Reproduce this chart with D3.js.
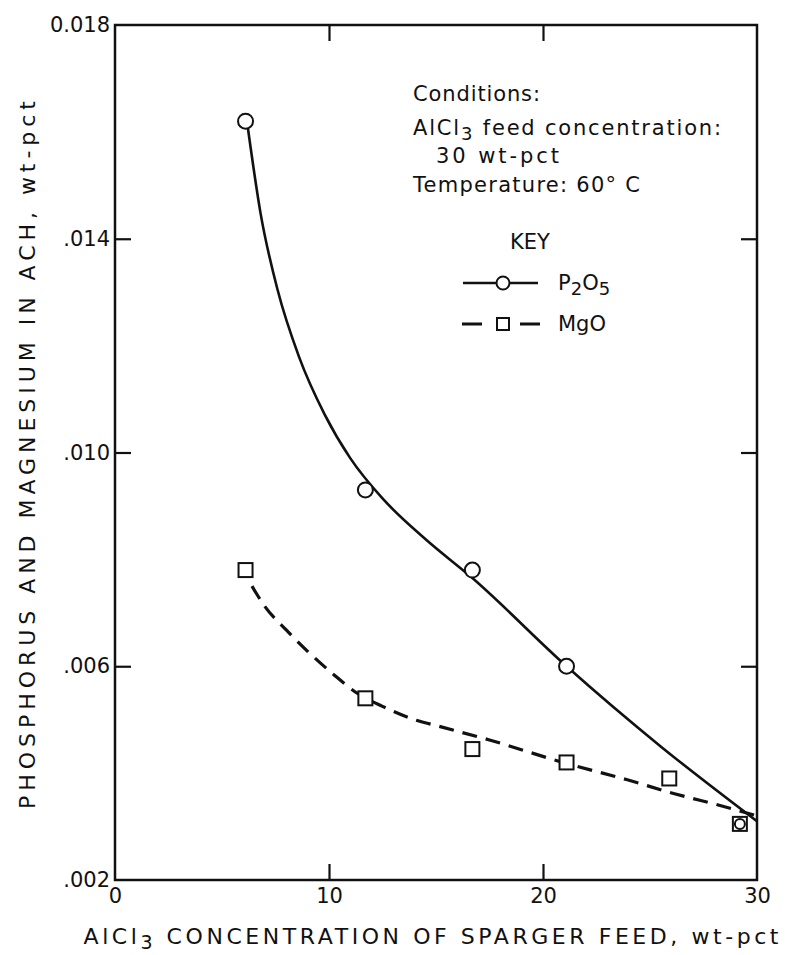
<!DOCTYPE html>
<html>
<head>
<meta charset="utf-8">
<script src="https://cdn.jsdelivr.net/npm/d3@7"></script>
<style>
  body { margin: 0; background: #fff; }
  svg { display: block; }
  text { font-family: "DejaVu Sans", sans-serif; fill: #111; }
</style>
</head>
<body>
<div id="chart"></div>
<script>
// measured points
const p2o5X = [6.1, 11.7, 16.7, 21.1, 29.2];
const p2o5Y = [0.0162, 0.0093, 0.0078, 0.0060, 0.00305];
const mgoX = [6.1, 11.7, 16.7, 21.1, 25.9, 29.2];
const mgoY = [0.0078, 0.0054, 0.00445, 0.0042, 0.0039, 0.00305];

// hand-drawn fit curves
const p2o5CurveX = [6.2, 6.8, 7.6, 8.6, 9.8, 11.0, 12.5, 14.5, 16.7, 21.1, 25.5, 30];
const p2o5CurveY = [0.0161, 0.01448, 0.01304, 0.01179, 0.01071, 0.00989, 0.00914, 0.00838, 0.00765, 0.0060, 0.0045, 0.0031];
const mgoCurveX = [6.4, 7.0, 8.0, 9.0, 10.2, 11.3, 12.5, 14.0, 15.2, 17.5, 21.1, 23.9, 26.1, 28.4, 30];
const mgoCurveY = [0.0075, 0.00712, 0.00668, 0.00628, 0.00585, 0.0055, 0.00525, 0.0050, 0.00487, 0.00462, 0.00418, 0.00388, 0.00362, 0.00338, 0.0032];

const xTicks = [0, 10, 20, 30];
const xTickLabels = ["0", "10", "20", "30"];
const yTicks = [0.018, 0.014, 0.010, 0.006, 0.002];
const yTickLabels = ["0.018", ".014", ".010", ".006", ".002"];

const margin = { top: 25, right: 32, bottom: 75, left: 115 },
      width = 789 - margin.left - margin.right,
      height = 955 - margin.top - margin.bottom;

const svg = d3.select("#chart")
  .append("svg")
  .attr("width", 789)
  .attr("height", 955)
  .append("g")
  .attr("transform", `translate(${margin.left},${margin.top})`);

const x = d3.scaleLinear().domain([0, 30]).range([0, width]);
const y = d3.scaleLinear().domain([0.002, 0.018]).range([height, 0]);

// frame
svg.append("rect")
  .attr("width", width).attr("height", height)
  .attr("fill", "none").attr("stroke", "#111").attr("stroke-width", 2.5);

const tickLen = 16;
const fmtX = d => xTickLabels[xTicks.indexOf(d)];
const fmtY = d => yTickLabels[yTicks.indexOf(d)];

const styleAxis = g => {
  g.select(".domain").remove();
  g.selectAll(".tick line").attr("stroke", "#111").attr("stroke-width", 2.2);
  g.selectAll(".tick text").attr("font-size", 21).attr("fill", "#111");
};

svg.append("g")
  .attr("transform", `translate(0,${height})`)
  .call(d3.axisBottom(x).tickValues(xTicks).tickFormat(fmtX).tickSizeInner(-tickLen).tickSizeOuter(0).tickPadding(8))
  .call(styleAxis)
  .call(g => g.selectAll(".tick line").filter(d => d === 0 || d === 30).remove());

svg.append("g")
  .call(d3.axisTop(x).tickValues([10, 20]).tickFormat("").tickSizeInner(-tickLen).tickSizeOuter(0))
  .call(styleAxis);

svg.append("g")
  .call(d3.axisLeft(y).tickValues(yTicks).tickFormat(fmtY).tickSizeInner(-tickLen).tickSizeOuter(0).tickPadding(5))
  .call(styleAxis)
  .call(g => g.selectAll(".tick line").filter(d => d === 0.018 || d === 0.002).remove());

svg.append("g")
  .attr("transform", `translate(${width},0)`)
  .call(d3.axisRight(y).tickValues([0.014, 0.010, 0.006]).tickFormat("").tickSizeInner(-tickLen).tickSizeOuter(0))
  .call(styleAxis);

// axis titles
const xTitle = svg.append("text")
  .attr("x", width / 2 - 5)
  .attr("y", height + 64)
  .attr("text-anchor", "middle")
  .attr("font-size", 22)
  .attr("textLength", 695)
  .attr("lengthAdjust", "spacing");
xTitle.append("tspan").text("AlCl");
xTitle.append("tspan").attr("dy", 5).attr("font-size", 19).text("3");
xTitle.append("tspan").attr("dy", -5).text(" CONCENTRATION OF SPARGER FEED, wt-pct");

svg.append("text")
  .attr("transform", "rotate(-90)")
  .attr("x", -(455 - margin.top))
  .attr("y", -80)
  .attr("text-anchor", "middle")
  .attr("font-size", 22)
  .attr("textLength", 708)
  .attr("lengthAdjust", "spacing")
  .text("PHOSPHORUS AND MAGNESIUM IN ACH, wt-pct");

// curves
const line = d3.line()
  .x(d => x(d[0]))
  .y(d => y(d[1]))
  .curve(d3.curveMonotoneX);

svg.append("path")
  .datum(d3.zip(p2o5CurveX, p2o5CurveY))
  .attr("d", line)
  .attr("fill", "none").attr("stroke", "#111").attr("stroke-width", 2.6);

svg.append("path")
  .datum(d3.zip(mgoCurveX, mgoCurveY))
  .attr("d", line)
  .attr("fill", "none").attr("stroke", "#111").attr("stroke-width", 3.2)
  .attr("stroke-dasharray", "15,9");

// markers
const sq = 14;
svg.selectAll(".mgo")
  .data(d3.zip(mgoX, mgoY))
  .enter().append("rect")
  .attr("class", "mgo")
  .attr("x", d => x(d[0]) - sq / 2)
  .attr("y", d => y(d[1]) - sq / 2)
  .attr("width", sq).attr("height", sq)
  .attr("fill", "#fff").attr("stroke", "#111").attr("stroke-width", 2);

svg.selectAll(".p2o5")
  .data(d3.zip(p2o5X, p2o5Y))
  .enter().append("circle")
  .attr("class", "p2o5")
  .attr("cx", d => x(d[0]))
  .attr("cy", d => y(d[1]))
  .attr("r", (d, i) => i === p2o5X.length - 1 ? 5 : 7.5)
  .attr("fill", "#fff").attr("stroke", "#111").attr("stroke-width", 2);

// conditions note
const fs = 21;
const note = svg.append("g").attr("transform", `translate(${413 - margin.left},0)`);
note.append("text").attr("x", 0).attr("y", 101 - margin.top).attr("font-size", fs)
  .attr("textLength", 127).attr("lengthAdjust", "spacing").text("Conditions:");
const n2 = note.append("text").attr("x", 0).attr("y", 135 - margin.top).attr("font-size", fs)
  .attr("textLength", 308).attr("lengthAdjust", "spacing");
n2.append("tspan").text("AlCl");
n2.append("tspan").attr("dy", 5).attr("font-size", 18).text("3");
n2.append("tspan").attr("dy", -5).text(" feed concentration:");
note.append("text").attr("x", 23).attr("y", 163 - margin.top).attr("font-size", fs)
  .attr("textLength", 123).attr("lengthAdjust", "spacing").text("30 wt-pct");
note.append("text").attr("x", 0).attr("y", 192 - margin.top).attr("font-size", fs)
  .attr("textLength", 227).attr("lengthAdjust", "spacing").text("Temperature: 60° C");

// key
const key = svg.append("g");
key.append("text").attr("x", 530 - margin.left).attr("y", 249 - margin.top)
  .attr("text-anchor", "middle").attr("font-size", fs).text("KEY");

const k1y = 283 - margin.top;
key.append("line").attr("x1", 463 - margin.left).attr("x2", 538 - margin.left)
  .attr("y1", k1y).attr("y2", k1y).attr("stroke", "#111").attr("stroke-width", 2.6);
key.append("circle").attr("cx", 503 - margin.left).attr("cy", k1y).attr("r", 6.5)
  .attr("fill", "#fff").attr("stroke", "#111").attr("stroke-width", 2);
const t1 = key.append("text").attr("x", 558 - margin.left).attr("y", k1y + 7).attr("font-size", fs);
t1.append("tspan").text("P");
t1.append("tspan").attr("dy", 5).attr("font-size", 18).text("2");
t1.append("tspan").attr("dy", -5).text("O");
t1.append("tspan").attr("dy", 5).attr("font-size", 18).text("5");

const k2y = 324 - margin.top;
key.append("line").attr("x1", 462 - margin.left).attr("x2", 540 - margin.left)
  .attr("y1", k2y).attr("y2", k2y).attr("stroke", "#111").attr("stroke-width", 3.2)
  .attr("stroke-dasharray", "20,38,20");
key.append("rect").attr("x", 503 - margin.left - 6).attr("y", k2y - 6).attr("width", 12).attr("height", 12)
  .attr("fill", "#fff").attr("stroke", "#111").attr("stroke-width", 2);
key.append("text").attr("x", 558 - margin.left).attr("y", k2y + 7).attr("font-size", fs).text("MgO");
</script>
</body>
</html>
